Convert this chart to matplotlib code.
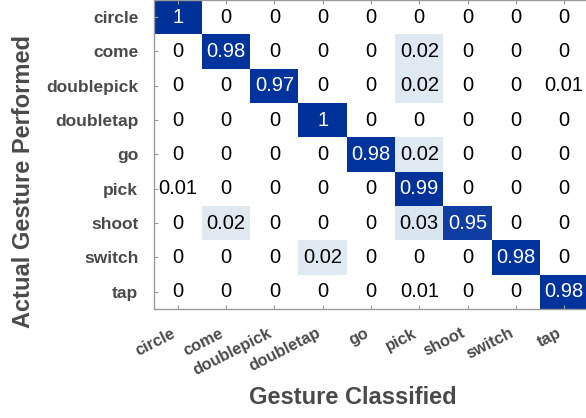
import numpy as np
import matplotlib
matplotlib.use("Agg")
import matplotlib.pyplot as plt
from matplotlib.colors import LinearSegmentedColormap

gestures = ["circle", "come", "doublepick", "doubletap", "go",
            "pick", "shoot", "switch", "tap"]

# rows: actual gesture, columns: classified gesture
conf = np.array([
    [1.00, 0.00, 0.00, 0.00, 0.00, 0.00, 0.00, 0.00, 0.00],
    [0.00, 0.98, 0.00, 0.00, 0.00, 0.02, 0.00, 0.00, 0.00],
    [0.00, 0.00, 0.97, 0.00, 0.00, 0.02, 0.00, 0.00, 0.01],
    [0.00, 0.00, 0.00, 1.00, 0.00, 0.00, 0.00, 0.00, 0.00],
    [0.00, 0.00, 0.00, 0.00, 0.98, 0.02, 0.00, 0.00, 0.00],
    [0.01, 0.00, 0.00, 0.00, 0.00, 0.99, 0.00, 0.00, 0.00],
    [0.00, 0.02, 0.00, 0.00, 0.00, 0.03, 0.95, 0.00, 0.00],
    [0.00, 0.00, 0.00, 0.02, 0.00, 0.00, 0.00, 0.98, 0.00],
    [0.00, 0.00, 0.00, 0.00, 0.00, 0.01, 0.00, 0.00, 0.98],
])

cmap = LinearSegmentedColormap.from_list("blues", [
    (0.000, "#ffffff"),
    (0.015, "#ffffff"),
    (0.020, "#dbe7f1"),
    (0.030, "#d8e5f0"),
    (0.500, "#5a7cc0"),
    (0.940, "#1a44a6"),
    (0.970, "#00349c"),
    (1.000, "#003199"),
])

plt.rcParams["font.family"] = ["Liberation Sans", "DejaVu Sans"]
label_color = "#4a4a4a"

fig = plt.figure(figsize=(5.86, 4.18), dpi=100)
ax = fig.add_axes([0.262, 0.261, 0.742, 0.739])

n = len(gestures)
ax.pcolormesh(np.arange(n + 1), np.arange(n + 1), conf, cmap=cmap,
              vmin=0, vmax=1, edgecolors="none", linewidth=0)
ax.set_xlim(0, n)
ax.set_ylim(n, 0)

for i in range(n):
    for j in range(n):
        v = conf[i, j]
        txt = "0" if v == 0 else ("1" if v == 1 else f"{v:.2f}")
        ax.text(j + 0.5, i + 0.5, txt, ha="center", va="center",
                fontsize=14.5, color="white" if v > 0.5 else "black")

centers = np.arange(n) + 0.5
ax.set_xticks(centers)
ax.set_yticks(centers)
ax.set_xticklabels(gestures, rotation=27, ha="right", va="top",
                   rotation_mode="default",
                   fontsize=11.8, fontweight="bold", color=label_color)
ax.set_yticklabels(gestures, fontsize=12.5, fontweight="bold",
                   color=label_color)
ax.tick_params(axis="both", direction="in", length=3, color="#999999",
               top=True, right=False)
ax.tick_params(axis="x", pad=12)
ax.tick_params(axis="y", pad=11)

for side, sp in ax.spines.items():
    sp.set_color("#9a9a9a")
    sp.set_linewidth(1.0)
ax.spines["right"].set_visible(False)

ax.set_xlabel("Gesture Classified", fontsize=17, fontweight="bold",
              color=label_color)
ax.set_ylabel("Actual Gesture Performed", fontsize=17, fontweight="bold",
              color=label_color)
ax.xaxis.set_label_coords(0.459, -0.25)
ax.yaxis.set_label_coords(-0.273, 0.411)

fig.savefig("out.png", dpi=100)
